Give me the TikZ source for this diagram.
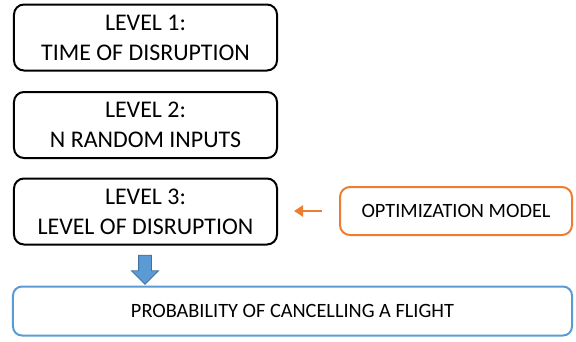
\documentclass[tikz,border=0pt]{standalone}
\usepackage{fontspec}
\setmainfont{Carlito}
\usetikzlibrary{arrows.meta,shapes.arrows}
\definecolor{boxorange}{HTML}{ED7D31}
\definecolor{boxblue}{HTML}{5B9BD5}
\definecolor{arrowedge}{HTML}{41719C}
\begin{document}
\begin{tikzpicture}[x=1bp,y=-1bp,
  levelbox/.style={draw=black, line width=2bp, rounded corners=10bp, fill=white,
    minimum width=263bp, minimum height=66bp, align=center, inner sep=0pt,
    font=\fontsize{24}{30}\selectfont},
  optbox/.style={draw=boxorange, line width=2bp, rounded corners=10bp, fill=white,
    minimum width=232bp, minimum height=48bp, inner sep=0pt,
    font=\fontsize{20.4}{24}\selectfont},
  resultbox/.style={draw=boxblue, line width=2bp, rounded corners=9bp, fill=white,
    minimum width=559bp, minimum height=49bp, inner sep=0pt,
    font=\fontsize{20.4}{24}\selectfont},
  feed/.style={draw=boxorange, line width=2.5bp, -{Triangle[length=9bp,width=11bp]}},
  downarrow/.style={single arrow, draw=arrowedge, fill=boxblue, line width=0.8bp,
    minimum height=29bp, inner sep=6bp, single arrow head extend=7bp,
    single arrow head indent=0pt, shape border rotate=270}
]
\useasboundingbox (0,0) rectangle (576,341);

\node[levelbox] (l1) at (145.5,37.5) {LEVEL 1:\\TIME OF DISRUPTION};
\node[levelbox] (l2) at (145.5,125) {LEVEL 2:\\N RANDOM INPUTS};
\node[levelbox] (l3) at (145.5,211.5) {LEVEL 3:\\LEVEL OF DISRUPTION};
\node[optbox] (opt) at (456,211) {OPTIMIZATION MODEL};
\node[resultbox] (res) at (292.5,311) {PROBABILITY OF CANCELLING A FLIGHT};

% block arrow from level 3 down to the result
\node[downarrow] (down) at (145,266.5) {};

% optimisation model feeding level 3
\draw[feed, shorten <=17bp, shorten >=16bp] (opt.west) -- (l3.east |- opt.west);
\end{tikzpicture}
\end{document}
